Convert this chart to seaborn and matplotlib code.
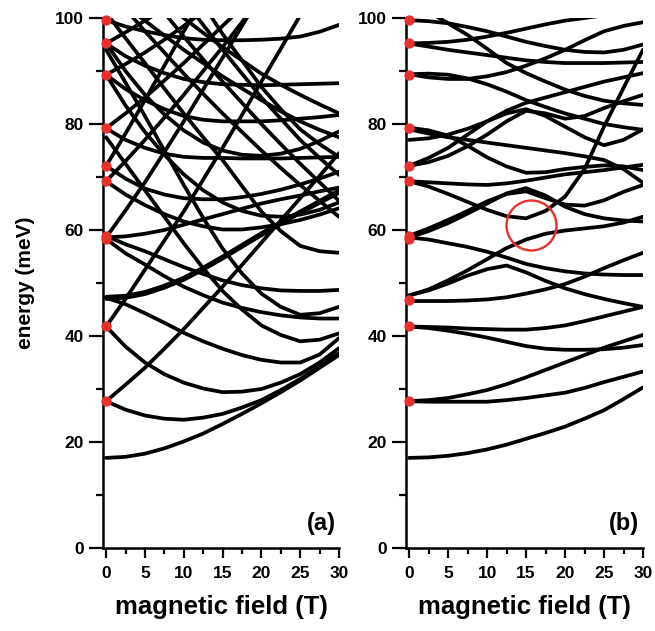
import numpy as np
import pandas as pd
import matplotlib
matplotlib.use("Agg")
import matplotlib.pyplot as plt
import seaborn as sns
from matplotlib.ticker import MultipleLocator

# ---------------- data ----------------
field_T = [0, 2.5, 5, 7.5, 10, 12.5, 15, 17.5, 20, 22.5, 25, 27.5, 30]

# panel (a): energy levels (meV) at the field values above
levels_a = [
    [17.0, 17.2, 17.8, 18.8, 20.1, 21.6, 23.4, 25.3, 27.3, 29.4, 31.6, 34.0, 36.4],
    [27.7, 26.1, 25.0, 24.4, 24.2, 24.6, 25.3, 26.5, 27.9, 29.8, 31.9, 34.3, 36.8],
    [27.7, 30.8, 34.0, 37.6, 41.3, 45.3, 49.3, 53.4, 57.6, 61.8, 66.0, 70.2, 74.5],
    [41.8, 38.0, 35.0, 32.8, 31.2, 30.1, 29.4, 29.5, 30.0, 31.2, 32.8, 35.0, 37.7],
    [41.8, 47.0, 52.5, 58.0, 63.5, 69.5, 75.5, 81.7, 88.0, 94.2, 100.5, 106.7, 113.0],
    [47.4, 47.6, 48.3, 49.5, 51.0, 52.9, 55.0, 57.2, 59.4, 61.5, 63.5, 65.5, 67.5],
    [47.0, 47.2, 47.9, 49.1, 50.6, 52.5, 54.6, 56.8, 59.0, 61.1, 63.2, 65.1, 67.0],
    [47.2, 46.0, 44.3, 42.5, 40.6, 39.0, 37.6, 36.4, 35.5, 35.0, 35.0, 36.5, 39.6],
    [58.3, 55.6, 53.5, 51.3, 49.3, 47.7, 46.3, 45.3, 44.5, 43.9, 43.5, 43.3, 43.3],
    [58.9, 57.3, 56.0, 54.5, 53.0, 51.7, 50.5, 49.6, 49.0, 48.6, 48.5, 48.5, 48.7],
    [58.6, 63.7, 69.0, 74.7, 80.5, 86.5, 92.5, 98.5, 104.5, 110.0, 116.0, 122.0, 128.0],
    [58.6, 58.8, 59.3, 60.0, 61.0, 62.0, 63.0, 64.0, 65.0, 65.8, 66.5, 67.3, 68.0],
    [69.2, 66.7, 64.7, 63.0, 61.6, 60.7, 60.1, 60.1, 60.5, 61.1, 61.9, 62.9, 64.1],
    [72.1, 69.7, 67.8, 66.7, 66.0, 65.8, 65.8, 66.2, 66.8, 67.6, 68.6, 69.7, 71.0],
    [69.2, 73.0, 77.0, 81.2, 85.5, 90.0, 94.5, 99.2, 104.0, 109.0, 114.0, 119.0, 124.0],
    [72.1, 78.2, 84.5, 91.0, 97.5, 103.7, 110.0, 116.0, 122.0, 128.0, 134.0, 140.0, 146.0],
    [79.2, 77.0, 75.5, 74.4, 73.8, 73.6, 73.6, 73.5, 73.5, 73.5, 73.6, 73.7, 73.8],
    [79.2, 82.0, 85.0, 88.2, 91.5, 95.0, 98.5, 102.0, 106.0, 110.0, 114.0, 118.0, 122.0],
    [77.5, 72.5, 67.5, 62.5, 57.5, 52.8, 48.5, 45.0, 42.0, 40.2, 39.0, 39.3, 40.5],
    [89.3, 86.6, 84.5, 82.8, 81.5, 80.8, 80.5, 80.5, 80.5, 80.7, 81.0, 81.3, 81.7],
    [89.3, 91.3, 93.5, 95.9, 98.5, 101.2, 104.0, 107.0, 110.0, 113.0, 116.0, 119.0, 122.0],
    [94.0, 87.8, 81.5, 75.0, 68.5, 62.3, 56.5, 51.8, 48.0, 45.5, 44.0, 44.3, 45.5],
    [95.2, 92.8, 91.0, 89.6, 88.5, 87.9, 87.5, 87.4, 87.3, 87.4, 87.5, 87.6, 87.7],
    [95.2, 97.3, 99.5, 101.7, 104.0, 106.5, 109.0, 111.5, 114.0, 116.5, 119.0, 121.5, 124.0],
    [99.6, 98.4, 97.5, 96.8, 96.2, 95.9, 95.8, 95.8, 95.9, 96.1, 96.5, 97.4, 98.7],
    [101.0, 96.2, 91.5, 86.7, 82.0, 77.5, 73.2, 68.3, 63.5, 59.8, 57.0, 56.0, 55.7],
    [106.0, 101.7, 97.5, 93.5, 89.5, 85.7, 82.0, 78.5, 75.0, 71.7, 68.5, 65.5, 62.5],
    [115.0, 110.2, 105.5, 101.0, 96.5, 92.2, 88.0, 84.0, 80.0, 76.2, 72.5, 69.0, 65.5],
    [125.0, 119.5, 114.0, 108.7, 103.5, 98.7, 94.0, 89.5, 85.0, 81.0, 77.0, 73.6, 70.4],
    [105.0, 102.2, 99.5, 96.7, 94.0, 91.5, 89.0, 86.7, 84.5, 82.4, 80.5, 78.9, 77.5],
    [112.0, 109.0, 106.0, 103.0, 100.0, 97.2, 94.5, 92.0, 89.5, 87.4, 85.5, 83.7, 82.0],
    [132.0, 126.0, 120.0, 114.0, 108.0, 102.5, 97.0, 92.0, 87.0, 82.8, 79.0, 76.2, 73.8],
    [95.2, 90.0, 85.5, 81.8, 78.8, 76.5, 75.0, 74.2, 74.0, 74.4, 75.3, 76.8, 78.6],
    [89.3, 83.5, 78.5, 74.2, 70.5, 67.5, 65.2, 63.6, 62.7, 62.5, 62.9, 63.8, 65.2],
]

# panel (b): energy levels (meV) at the field values above
levels_b = [
    [17.0, 17.1, 17.4, 17.9, 18.6, 19.5, 20.6, 21.7, 22.9, 24.4, 26.0, 28.1, 30.3],
    [27.7, 27.9, 28.3, 29.0, 29.8, 30.9, 32.2, 33.6, 35.0, 36.4, 37.8, 39.0, 40.2],
    [27.7, 27.6, 27.6, 27.6, 27.6, 27.9, 28.3, 28.8, 29.3, 30.2, 31.3, 32.3, 33.3],
    [41.8, 41.7, 41.6, 41.4, 41.3, 41.2, 41.2, 41.5, 42.0, 42.8, 43.7, 44.6, 45.5],
    [41.8, 41.5, 41.0, 40.4, 39.7, 38.9, 38.1, 37.6, 37.4, 37.4, 37.5, 37.8, 38.3],
    [47.7, 48.6, 49.9, 51.4, 52.6, 53.3, 52.0, 50.4, 49.0, 47.9, 47.0, 46.2, 45.5],
    [46.6, 46.6, 46.6, 46.7, 46.9, 47.3, 48.0, 48.8, 49.8, 51.2, 52.8, 54.3, 55.7],
    [58.6, 58.2, 57.5, 56.8, 55.9, 54.8, 53.6, 52.8, 52.2, 51.8, 51.6, 51.5, 51.5],
    [47.6, 48.8, 50.5, 52.4, 54.5, 56.6, 58.2, 59.3, 59.9, 60.3, 60.7, 61.4, 62.5],
    [58.6, 59.8, 61.3, 63.1, 65.0, 66.9, 67.9, 66.5, 64.4, 63.0, 62.2, 61.8, 61.6],
    [58.9, 60.3, 61.9, 63.6, 65.4, 66.8, 67.3, 66.0, 64.8, 64.6, 65.6, 67.2, 68.5],
    [69.2, 68.2, 66.8, 65.3, 63.8, 62.6, 62.2, 63.6, 66.3, 71.5, 79.5, 86.8, 94.0],
    [69.2, 69.0, 68.8, 68.6, 68.5, 68.8, 69.3, 69.9, 70.5, 70.9, 71.3, 71.8, 72.3],
    [79.3, 78.8, 77.8, 75.9, 73.7, 72.0, 70.8, 70.9, 71.5, 71.9, 72.2, 72.0, 71.3],
    [77.0, 77.3, 78.0, 79.1, 80.5, 82.0, 82.8, 81.5, 79.5, 77.5, 76.0, 77.0, 79.0],
    [72.1, 72.8, 74.0, 75.8, 78.0, 80.5, 82.5, 82.0, 81.0, 81.5, 83.0, 84.3, 85.5],
    [72.1, 73.6, 75.5, 78.0, 80.5, 82.5, 84.0, 85.0, 86.0, 87.0, 88.0, 88.8, 89.6],
    [89.4, 89.5, 89.3, 88.6, 87.5, 86.1, 84.5, 83.2, 82.0, 81.0, 80.0, 79.4, 78.9],
    [89.4, 88.8, 88.5, 88.5, 89.0, 89.8, 91.0, 92.4, 94.0, 95.8, 97.5, 98.5, 99.2],
    [95.2, 94.6, 94.0, 93.5, 93.0, 92.5, 92.0, 91.7, 91.5, 91.5, 91.5, 91.6, 91.7],
    [95.2, 95.3, 95.5, 95.9, 96.5, 97.2, 98.0, 98.8, 99.5, 100.0, 100.5, 100.8, 101.0],
    [99.6, 99.4, 99.0, 98.3, 97.5, 96.5, 95.5, 94.7, 94.0, 93.6, 93.5, 94.0, 95.0],
    [103.5, 101.2, 99.0, 96.8, 94.2, 91.5, 89.6, 88.0, 86.5, 85.3, 84.4, 83.9, 83.6],
    [79.0, 78.2, 77.5, 77.0, 76.5, 76.0, 75.5, 75.0, 74.5, 73.9, 73.2, 71.5, 68.9],
]

# red markers at B = 0 (meV)
dots_a = [27.7, 41.8, 58.3, 58.9, 69.2, 72.1, 79.2, 89.3, 95.2, 99.6]
dots_b = [27.7, 41.8, 46.8, 58.3, 58.9, 69.2, 72.1, 79.2, 89.3, 95.2, 99.6]

# red open circle (panel b)
circle_B = [15.6]
circle_E = [61.0]

panel_tags = ["(a)", "(b)"]
x_ticks = [0, 5, 10, 15, 20, 25, 30]
y_ticks = [0, 20, 40, 60, 80, 100]


def to_frame(levels):
    rows = []
    for k, lev in enumerate(levels):
        for b, e in zip(field_T, lev):
            rows.append({"B": b, "E": e, "curve": k})
    return pd.DataFrame(rows)


sns.set_theme(style="ticks")
plt.rcParams["font.family"] = ["Liberation Sans", "DejaVu Sans"]
plt.rcParams["font.weight"] = "bold"

fig = plt.figure(figsize=(6.55, 6.31), dpi=100)
ax_a = fig.add_axes([103 / 655, 83 / 631, 236 / 655, 530 / 631])
ax_b = fig.add_axes([406 / 655, 83 / 631, 237 / 655, 530 / 631])

red = "#e8302c"
for ax, levels, dots, tag in [(ax_a, levels_a, dots_a, panel_tags[0]),
                              (ax_b, levels_b, dots_b, panel_tags[1])]:
    df = to_frame(levels)
    sns.lineplot(data=df, x="B", y="E", units="curve", estimator=None,
                 color="black", lw=2.7, sort=False, ax=ax, legend=False)
    ax.scatter([0] * len(dots), dots, s=55, color=red, zorder=5,
               clip_on=False, linewidths=0)
    ax.set_xlim(-0.4, 30)
    ax.set_ylim(0, 100)
    ax.set_xticks(x_ticks)
    ax.set_yticks(y_ticks)
    ax.xaxis.set_minor_locator(MultipleLocator(2.5))
    ax.yaxis.set_minor_locator(MultipleLocator(10))
    for s in ["top", "right"]:
        ax.spines[s].set_visible(False)
    for s in ["left", "bottom"]:
        ax.spines[s].set_linewidth(1.8)
        ax.spines[s].set_color("black")
    ax.tick_params(axis="both", which="major", direction="out", width=1.6,
                   color="black", labelsize=12.5, labelcolor="black")
    ax.tick_params(axis="y", which="major", length=10, pad=4)
    ax.tick_params(axis="y", which="minor", length=5, width=1.6, color="black")
    ax.tick_params(axis="x", which="major", length=7, pad=6)
    ax.tick_params(axis="x", which="minor", length=4, width=1.6, color="black")
    for lab in ax.get_xticklabels() + ax.get_yticklabels():
        lab.set_fontweight("bold")
    ax.set_xlabel("magnetic field (T)", fontsize=18.5, fontweight="bold",
                  labelpad=10, color="black")
    ax.set_ylabel("")
    ax.text(0.985, 0.025, tag, transform=ax.transAxes, ha="right",
            va="bottom", fontsize=17, fontweight="bold", color="black")

ax_b.plot(circle_B, circle_E, marker="o", ms=36, mfc="none", mec=red,
          mew=1.7, ls="none", zorder=6)

ax_a.set_ylabel("energy (meV)", fontsize=15, fontweight="bold", labelpad=14,
                color="black")

fig.savefig("out.png", dpi=100)
